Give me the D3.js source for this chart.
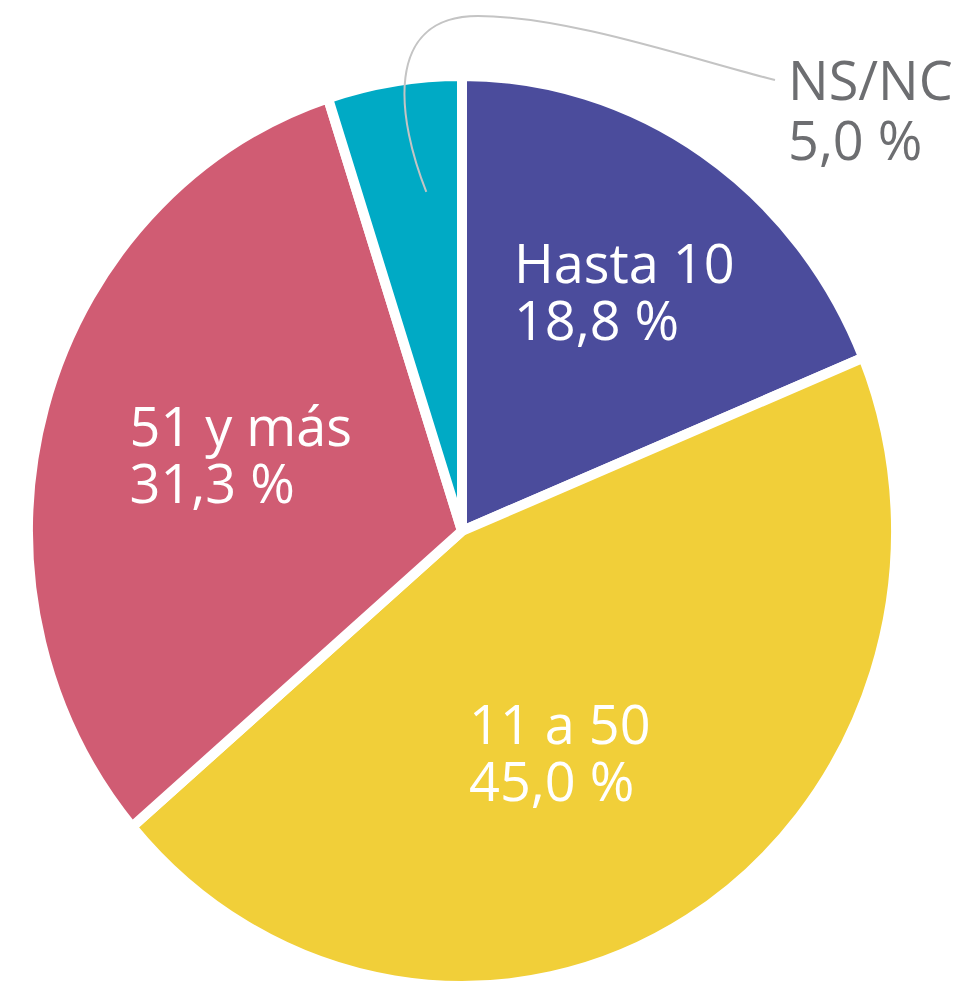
<!DOCTYPE html>
<html>
<head>
<meta charset="utf-8">
<script src="https://cdn.jsdelivr.net/npm/d3@7"></script>
<style>
  body { margin: 0; background: #fff; }
  svg { display: block; }
  text { font-family: "Open Sans", "Noto Sans", sans-serif; }
</style>
</head>
<body>
<div class="chart-container"></div>
<script>
// data
var categories = ["Hasta 10", "11 a 50", "51 y más", "NS/NC"];
var values = [18.8, 45.0, 31.3, 5.0];
var valueLabels = ["18,8 %", "45,0 %", "31,3 %", "5,0 %"];
var colors = ["#4b4c9c", "#f1cf39", "#d05c73", "#00aac5"];

var width = 972, height = 983;
var cx = 462, cy = 531,
    radius = 455,
    squash = 0.954; // the original pie is a bit narrower than tall

// where each label sits: fraction of radius and a small turn (degrees) off the mid angle
// NS/NC goes outside, so no entry
var labelRadius = [0.642, 0.54, 0.535, null];
var labelTurn = [1.8, 6.8, 2, 0];

var svg = d3.select('.chart-container').append("svg")
    .attr("width", width)
    .attr("height", height);

var pie = d3.pie().sort(null).value(function (d) { return d; });
var arcs = pie(values);

var arc = d3.arc().innerRadius(0).outerRadius(radius);

var g = svg.append("g")
    .attr("transform", "translate(" + cx + "," + cy + ") scale(" + squash + ",1)");

g.selectAll("path")
    .data(arcs)
  .enter().append("path")
    .attr("d", arc)
    .attr("fill", function (d, i) { return colors[i]; })
    .attr("stroke", "#fff")
    .attr("stroke-width", 10)
    .attr("stroke-linejoin", "miter")
    .attr("vector-effect", "non-scaling-stroke");

function polar(angle, r) {
    return [cx + Math.sin(angle) * r * squash, cy - Math.cos(angle) * r];
}

var lineGap = 57;

// labels inside the slices
arcs.forEach(function (d, i) {
    if (labelRadius[i] == null) return;
    var mid = (d.startAngle + d.endAngle) / 2 + labelTurn[i] * Math.PI / 180;
    var c = polar(mid, radius * labelRadius[i]);
    var t = svg.append("text")
        .attr("fill", "#fff")
        .attr("font-size", 54);
    t.append("tspan").attr("x", 0).attr("y", 0).text(categories[i]);
    t.append("tspan").attr("x", 0).attr("y", lineGap).text(valueLabels[i]);
    var w = t.node().getBBox().width;
    // +18 so the pair of lines is centred on the point, not the baselines
    t.attr("transform", "translate(" + (c[0] - w / 2) + "," + (c[1] - lineGap / 2 + 18) + ")");
});

// NS/NC goes outside with a leader line
var k = 3;
var outside = svg.append("text")
    .attr("fill", "#6d6e71")
    .attr("font-size", 54)
    .attr("transform", "translate(788,100)");
outside.append("tspan").attr("x", 0).attr("y", 0).text(categories[k]);
outside.append("tspan").attr("x", 0).attr("y", 60).text(valueLabels[k]);

var a = arcs[k].startAngle + (arcs[k].endAngle - arcs[k].startAngle) * 0.65;
var start = polar(a, radius * 0.75);
var end = [775, 80];
var peak = [478, 16];

var p = d3.path();
p.moveTo(start[0], start[1]);
p.bezierCurveTo(start[0] - 28, start[1] - 70, start[0] - 45, peak[1], peak[0], peak[1]);
p.bezierCurveTo(peak[0] + 90, peak[1], end[0] - 80, end[1] - 20, end[0], end[1]);

svg.append("path")
    .attr("d", p.toString())
    .attr("fill", "none")
    .attr("stroke", "#c4c4c4")
    .attr("stroke-width", 2);
</script>
</body>
</html>
